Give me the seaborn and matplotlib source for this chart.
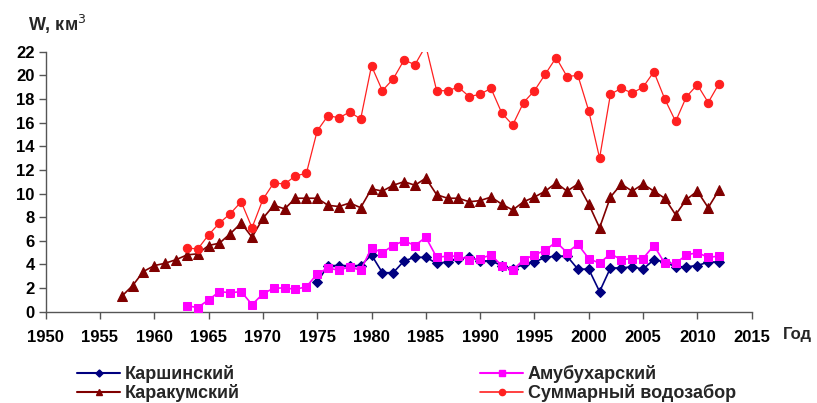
import matplotlib
matplotlib.use("Agg")
import matplotlib.pyplot as plt
import seaborn as sns
import pandas as pd
from matplotlib.lines import Line2D

sns.set_theme(style="white")
plt.rcParams['font.family'] = ['Liberation Sans', 'DejaVu Sans']

# ---- data ----
years_karshi = list(range(1975, 2013))
karshi = [2.5, 3.9, 3.9, 3.9, 3.9, 4.8, 3.3, 3.3, 4.3, 4.6,
          4.6, 4.1, 4.2, 4.5, 4.6, 4.3, 4.3, 3.9, 3.6, 4.0,
          4.2, 4.6, 4.7, 4.7, 3.6, 3.6, 1.7, 3.7, 3.7, 3.8,
          3.6, 4.4, 4.2, 3.8, 3.8, 3.9, 4.2, 4.2]

years_amubukhara = list(range(1963, 2013))
amubukhara = [0.5, 0.35, 1.0, 1.7, 1.6, 1.7, 0.6, 1.5, 2.0, 2.0,
              1.9, 2.1, 3.2, 3.7, 3.5, 3.8, 3.5, 5.4, 5.0, 5.6,
              6.0, 5.6, 6.3, 4.6, 4.7, 4.7, 4.4, 4.5, 4.8, 3.9,
              3.5, 4.4, 4.8, 5.2, 5.9, 5.0, 5.7, 4.5, 4.1, 4.9,
              4.4, 4.5, 4.5, 5.6, 4.1, 4.1, 4.8, 5.0, 4.6, 4.7]

years_karakum = list(range(1957, 2013))
karakum = [1.3, 2.2, 3.4, 3.9, 4.1, 4.4, 4.8, 4.9, 5.6, 5.8,
           6.6, 7.5, 6.3, 7.9, 9.0, 8.7, 9.6, 9.6, 9.6, 9.0,
           8.9, 9.2, 8.8, 10.4, 10.2, 10.7, 11.0, 10.7, 11.3, 9.9,
           9.6, 9.6, 9.3, 9.4, 9.7, 9.1, 8.6, 9.3, 9.7, 10.2,
           10.9, 10.2, 10.8, 9.1, 7.1, 9.7, 10.8, 10.2, 10.8, 10.2,
           9.6, 8.2, 9.5, 10.2, 8.8, 10.3]

years_total = list(range(1963, 2013))
total = [5.4, 5.3, 6.5, 7.5, 8.3, 9.3, 7.1, 9.5, 10.9, 10.8,
         11.5, 11.7, 15.3, 16.6, 16.4, 16.9, 16.3, 20.8, 18.7, 19.7,
         21.3, 20.9, 22.5, 18.7, 18.7, 19.0, 18.2, 18.4, 18.9, 16.8,
         15.8, 17.7, 18.7, 20.1, 21.5, 19.9, 20.0, 17.0, 13.0, 18.4,
         18.9, 18.5, 19.0, 20.3, 18.0, 16.1, 18.2, 19.2, 17.7, 19.3]

labels = ["Каршинский", "Амубухарский", "Каракумский", "Суммарный водозабор"]
x_ticks = list(range(1950, 2016, 5))
y_ticks = list(range(0, 23, 2))

# ---- figure ----
fig = plt.figure(figsize=(8.17, 4.03), dpi=100)
ax = fig.add_axes([0.0559, 0.2266, 0.8641, 0.6451])

series = [
    (years_karshi, karshi, "#000080", "D", 4.8, 1.2, labels[0]),
    (years_amubukhara, amubukhara, "#FF00FF", "s", 5.5, 1.2, labels[1]),
    (years_karakum, karakum, "#800000", "^", 6.5, 1.2, labels[2]),
    (years_total, total, "#FF2020", "o", 6.0, 0.9, labels[3]),
]

handles = {}
for xs, ys, col, mk, ms, lw, lab in series:
    df = pd.DataFrame({"year": xs, "W": ys})
    sns.lineplot(data=df, x="year", y="W", ax=ax, color=col, marker=mk,
                 markersize=ms, markeredgecolor=col, linewidth=lw,
                 legend=False, zorder=3)
    handles[lab] = Line2D([0], [0], color=col, marker=mk, markersize=ms * 0.75,
                          markeredgecolor=col, linewidth=lw + 0.3)

ax.set_xlim(1950, 2015)
ax.set_ylim(0, 22)
ax.set_xticks(x_ticks)
ax.set_yticks(y_ticks)
ax.set_xticklabels([str(v) for v in x_ticks], fontsize=12, fontweight="bold")
ax.set_yticklabels([str(v) for v in y_ticks], fontsize=12, fontweight="bold")
ax.set_xlabel("")
ax.set_ylabel("")
for s in ["top", "right"]:
    ax.spines[s].set_visible(False)
for s in ["left", "bottom"]:
    ax.spines[s].set_color("#555555")
    ax.spines[s].set_linewidth(1.0)
ax.tick_params(axis="both", direction="out", length=5, width=1.0,
               color="#555555", labelcolor="black", pad=3,
               bottom=True, left=True)
ax.tick_params(axis="x", pad=8)
ax.grid(False)

fig.text(28 / 817, 1 - 24 / 403, "W, км$^3$", fontsize=13, fontweight="bold",
         ha="left", va="center")
fig.text(783 / 817, 1 - 335 / 403, "Год", fontsize=12, fontweight="bold",
         ha="left", va="center")

order = [labels[0], labels[2], labels[1], labels[3]]
fig.legend([handles[l] for l in order], order, loc="upper left",
           bbox_to_anchor=(77 / 817, 1 - 365 / 403), ncol=2, frameon=False,
           prop={"size": 13, "weight": "bold"}, handlelength=2.4,
           handletextpad=0.25, columnspacing=13.3, borderpad=0,
           borderaxespad=0, labelspacing=0.05)

fig.savefig("out.png", dpi=100)
